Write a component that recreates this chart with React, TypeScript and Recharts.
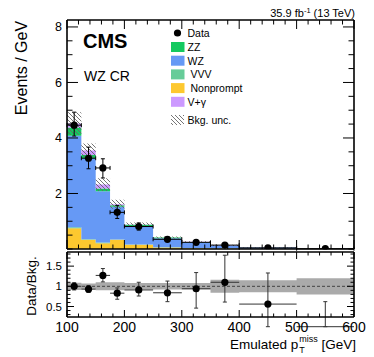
import React from 'react';
import { ComposedChart, Area, Scatter, ErrorBar, XAxis, YAxis, ReferenceLine } from 'recharts';

// bins in GeV, per-bin yields in events / GeV
const binEdges = [100, 125, 150, 175, 200, 250, 300, 350, 400, 500, 600];
const nonprompt = [0.75, 0.33, 0.21, 0.33, 0.15, 0.05, 0.03, 0.02, 0.01, 0.005];
const vvv = [0.03, 0.02, 0.02, 0.01, 0.01, 0.01, 0.005, 0.003, 0.002, 0.001];
const wz = [3.3, 2.92, 1.85, 1.18, 0.67, 0.33, 0.21, 0.1, 0.04, 0.014];
const zz = [0.3, 0.12, 0.1, 0.06, 0.04, 0.02, 0.01, 0.006, 0.003, 0.002];
const vgamma = [0.14, 0.16, 0.14, 0.03, 0.01, 0.005, 0.003, 0.002, 0.001, 0.001];
const relUnc = [0.09, 0.07, 0.1, 0.1, 0.08, 0.08, 0.08, 0.16, 0.15, 0.2];

const dataY = [4.46, 3.27, 2.92, 1.32, 0.81, 0.35, 0.24, 0.14, 0.04, 0.01];
const dataLo = [0.39, 0.38, 0.36, 0.22, 0.13, 0.08, 0.06, 0.05, 0.03, 0.01];
const dataHi = [0.47, 0.4, 0.33, 0.25, 0.13, 0.09, 0.07, 0.06, 0.04, 0.03];

const ratioY = [1.0, 0.93, 1.27, 0.83, 0.91, 0.84, 0.94, 1.1, 0.56, 0];
const ratioLo = [0.09, 0.08, 0.16, 0.15, 0.15, 0.22, 0.48, 0.49, 0.56, 0];
const ratioHi = [0.09, 0.09, 0.17, 0.13, 0.19, 0.29, 0.4, 0.67, 0.77, 0.62];

const xMajor = [100, 200, 300, 400, 500, 600];
const xTicks = Array.from({ length: 26 }, (_, i) => 100 + 20 * i);
const mainYMajor = [2, 4, 6, 8];
const mainYTicks = Array.from({ length: 17 }, (_, i) => i * 0.5);
const ratioYMajor = [0.5, 1, 1.5];
const ratioYTicks = Array.from({ length: 16 }, (_, i) => +(0.3 + 0.1 * i).toFixed(1));

const colors = {
  zz: '#14c95f',
  wz: '#6699f5',
  vvv: '#66cc99',
  nonprompt: '#fdc82f',
  vgamma: '#cc99ff',
};

const legendItems = [
  { label: 'ZZ', color: colors.zz, indent: 0 },
  { label: 'WZ', color: colors.wz, indent: 0 },
  { label: 'VVV', color: colors.vvv, indent: 3 },
  { label: 'Nonprompt', color: colors.nonprompt, indent: 3 },
  { label: 'V+\u03b3', color: colors.vgamma, indent: 0 },
];

const FONT = '"Liberation Sans", Arial, Helvetica, sans-serif';

const nBins = binEdges.length - 1;
const stackRows = binEdges.map((x, i) => {
  const b = Math.min(i, nBins - 1);
  const tot = nonprompt[b] + vvv[b] + wz[b] + zz[b] + vgamma[b];
  return {
    x,
    nonprompt: nonprompt[b],
    vvv: vvv[b],
    wz: wz[b],
    zz: zz[b],
    vgamma: vgamma[b],
    unc: [tot * (1 - relUnc[b]), tot * (1 + relUnc[b])],
    band: [1 - relUnc[b], 1 + relUnc[b]],
  };
});

const binCenters = binEdges.slice(0, -1).map((e, i) => (e + binEdges[i + 1]) / 2);
const halfWidths = binEdges.slice(0, -1).map((e, i) => (binEdges[i + 1] - e) / 2);
const dataRows = binCenters.map((x, i) => ({ x, y: dataY[i], ex: halfWidths[i], ey: [dataLo[i], dataHi[i]] }));
const ratioRows = binCenters.map((x, i) => ({ x, y: ratioY[i], ex: halfWidths[i], ey: [ratioLo[i], ratioHi[i]] }));

type TickOpts = {
  side: 'bottom' | 'top' | 'left' | 'right';
  majors: number[];
  majLen: number;
  minLen: number;
  label?: boolean;
  fontSize?: number;
};

// ROOT style ticks: drawn inside the frame
const makeTick = (o: TickOpts) => (props: any) => {
  const { x, y, payload } = props;
  const v = payload.value;
  const major = o.majors.some((m) => Math.abs(m - v) < 1e-6);
  const len = major ? o.majLen : o.minLen;
  let x2 = x;
  let y2 = y;
  if (o.side === 'bottom') y2 = y - len;
  if (o.side === 'top') y2 = y + len;
  if (o.side === 'left') x2 = x + len;
  if (o.side === 'right') x2 = x - len;
  let label = null;
  if (o.label && major) {
    if (o.side === 'bottom') {
      label = (
        <text x={x} y={y + 14.5} textAnchor="middle" fontSize={o.fontSize} fontFamily={FONT} fill="#000">
          {v}
        </text>
      );
    } else if (o.side === 'left') {
      label = (
        <text x={x - 5} y={y + (o.fontSize || 12) * 0.36} textAnchor="end" fontSize={o.fontSize} fontFamily={FONT} fill="#000">
          {v}
        </text>
      );
    }
  }
  return (
    <g>
      <line x1={x} y1={y} x2={x2} y2={y2} stroke="#000" strokeWidth={1} />
      {label}
    </g>
  );
};

const axisLine = { stroke: '#000', strokeWidth: 1.6 };
const dot = (p: any) => <circle cx={p.cx} cy={p.cy} r={3.6} fill="#000" />;

function MainPanel() {
  return (
    <ComposedChart width={374} height={252} data={stackRows} margin={{ top: 0, right: 0, bottom: 0, left: 0 }}>
      <XAxis dataKey="x" type="number" domain={[100, 600]} allowDataOverflow ticks={xTicks} interval={0}
        height={3} tickSize={0} tickMargin={0} axisLine={axisLine} tickLine={false}
        tick={makeTick({ side: 'bottom', majors: xMajor, majLen: 9, minLen: 4.5 })} />
      <XAxis xAxisId="top" orientation="top" dataKey="x" type="number" domain={[100, 600]} allowDataOverflow ticks={xTicks} interval={0}
        height={20} tickSize={0} tickMargin={0} axisLine={axisLine} tickLine={false}
        tick={makeTick({ side: 'top', majors: xMajor, majLen: 9, minLen: 4.5 })} />
      <YAxis type="number" domain={[0, 8.25]} allowDataOverflow ticks={mainYTicks} interval={0}
        width={67} tickSize={0} tickMargin={0} axisLine={axisLine} tickLine={false}
        tick={makeTick({ side: 'left', majors: mainYMajor, majLen: 11, minLen: 5.5, label: true, fontSize: 12.5 })} />
      <YAxis yAxisId="right" orientation="right" type="number" domain={[0, 8.25]} allowDataOverflow ticks={mainYTicks} interval={0}
        width={20} tickSize={0} tickMargin={0} axisLine={axisLine} tickLine={false}
        tick={makeTick({ side: 'right', majors: mainYMajor, majLen: 11, minLen: 5.5 })} />

      <Area type="stepAfter" dataKey="nonprompt" stackId="bkg" fill={colors.nonprompt} fillOpacity={1} stroke="none" isAnimationActive={false} />
      <Area type="stepAfter" dataKey="vvv" stackId="bkg" fill={colors.vvv} fillOpacity={1} stroke="none" isAnimationActive={false} />
      <Area type="stepAfter" dataKey="wz" stackId="bkg" fill={colors.wz} fillOpacity={1} stroke="none" isAnimationActive={false} />
      <Area type="stepAfter" dataKey="zz" stackId="bkg" fill={colors.zz} fillOpacity={1} stroke="none" isAnimationActive={false} />
      <Area type="stepAfter" dataKey="vgamma" stackId="bkg" fill={colors.vgamma} fillOpacity={1} stroke="none" isAnimationActive={false} />
      <Area type="stepAfter" dataKey="unc" fill="url(#bkgHatch)" fillOpacity={1} stroke="none" isAnimationActive={false} />

      <Scatter data={dataRows} dataKey="y" shape={dot} isAnimationActive={false}>
        <ErrorBar dataKey="ex" direction="x" width={2} stroke="#000" strokeWidth={1} />
        <ErrorBar dataKey="ey" direction="y" width={2} stroke="#000" strokeWidth={1} />
      </Scatter>
    </ComposedChart>
  );
}

function RatioPanel() {
  return (
    <ComposedChart width={374} height={108} data={stackRows} margin={{ top: 0, right: 0, bottom: 0, left: 0 }}>
      <XAxis dataKey="x" type="number" domain={[100, 600]} allowDataOverflow ticks={xTicks} interval={0}
        height={40} tickSize={0} tickMargin={0} axisLine={axisLine} tickLine={false}
        tick={makeTick({ side: 'bottom', majors: xMajor, majLen: 7, minLen: 3.5, label: true, fontSize: 14 })} />
      <XAxis xAxisId="top" orientation="top" dataKey="x" type="number" domain={[100, 600]} allowDataOverflow ticks={xTicks} interval={0}
        height={3} tickSize={0} tickMargin={0} axisLine={axisLine} tickLine={false}
        tick={makeTick({ side: 'top', majors: xMajor, majLen: 7, minLen: 3.5 })} />
      <YAxis type="number" domain={[0.24, 1.85]} allowDataOverflow ticks={ratioYTicks} interval={0}
        width={67} tickSize={0} tickMargin={0} axisLine={axisLine} tickLine={false}
        tick={makeTick({ side: 'left', majors: ratioYMajor, majLen: 7, minLen: 3.5, label: true, fontSize: 11.5 })} />
      <YAxis yAxisId="right" orientation="right" type="number" domain={[0.24, 1.85]} allowDataOverflow ticks={ratioYTicks} interval={0}
        width={20} tickSize={0} tickMargin={0} axisLine={axisLine} tickLine={false}
        tick={makeTick({ side: 'right', majors: ratioYMajor, majLen: 7, minLen: 3.5 })} />

      <Area type="stepAfter" dataKey="band" fill="#aaaaaa" fillOpacity={1} stroke="none" isAnimationActive={false} />
      <ReferenceLine y={1} stroke="#444" strokeDasharray="3 2" strokeWidth={1} />

      <Scatter data={ratioRows} dataKey="y" shape={dot} isAnimationActive={false}>
        <ErrorBar dataKey="ex" direction="x" width={0} stroke="#333" strokeWidth={1} />
        <ErrorBar dataKey="ey" direction="y" width={2} stroke="#333" strokeWidth={1} />
      </Scatter>
    </ComposedChart>
  );
}

export default function App() {
  return (
    <div style={{ position: 'absolute', left: 0, top: 0, width: 374, height: 357, background: '#fff', fontFamily: FONT }}>
      <div style={{ position: 'absolute', left: 0, top: 0 }}>
        <MainPanel />
      </div>
      <div style={{ position: 'absolute', left: 0, top: 249 }}>
        <RatioPanel />
      </div>
      <svg width={374} height={357} style={{ position: 'absolute', left: 0, top: 0, pointerEvents: 'none' }} fontFamily={FONT}>
        <defs>
          <pattern id="bkgHatch" patternUnits="userSpaceOnUse" width="4" height="4">
            <path d="M0,0 L4,4 M-1,3 L1,5 M3,-1 L5,1" stroke="#666" strokeWidth="0.9" />
          </pattern>
        </defs>

        <text x={355} y={16.5} textAnchor="end" fontSize={11}>
          35.9 fb
          <tspan fontSize={7.5} dy={-4}>-1</tspan>
          <tspan dy={4}>{' (13 TeV)'}</tspan>
        </text>

        <text x={83} y={47.5} fontSize={20} fontWeight="bold">CMS</text>
        <text x={84} y={81} fontSize={14}>WZ CR</text>

        {/* legend */}
        <circle cx={177.5} cy={33} r={3.6} fill="#000" />
        <text x={187.5} y={36.8} fontSize={10.5}>Data</text>
        {legendItems.map((it, i) => {
          const cy = 47 + i * 13.7;
          return (
            <g key={it.label}>
              <rect x={171} y={cy - 5} width={13.5} height={10} fill={it.color} />
              <text x={187.5 + it.indent} y={cy + 3.8} fontSize={10.5}>{it.label}</text>
            </g>
          );
        })}
        <rect x={171} y={115} width={13} height={10} fill="url(#bkgHatch)" />
        <text x={187.5} y={123.8} fontSize={10.5}>Bkg. unc.</text>

        <text transform="translate(27,68) rotate(-90)" textAnchor="middle" fontSize={16}>Events / GeV</text>
        <text transform="translate(36,286) rotate(-90)" textAnchor="middle" fontSize={13.5}>Data/Bkg.</text>

        <text x={356} y={349} textAnchor="end" fontSize={13.5}>
          Emulated p
          <tspan fontSize={9} dx={1} dy={4}>T</tspan>
          <tspan fontSize={9} dx={-5.5} dy={-11}>miss</tspan>
          <tspan dy={7}>{' [GeV]'}</tspan>
        </text>
      </svg>
    </div>
  );
}
